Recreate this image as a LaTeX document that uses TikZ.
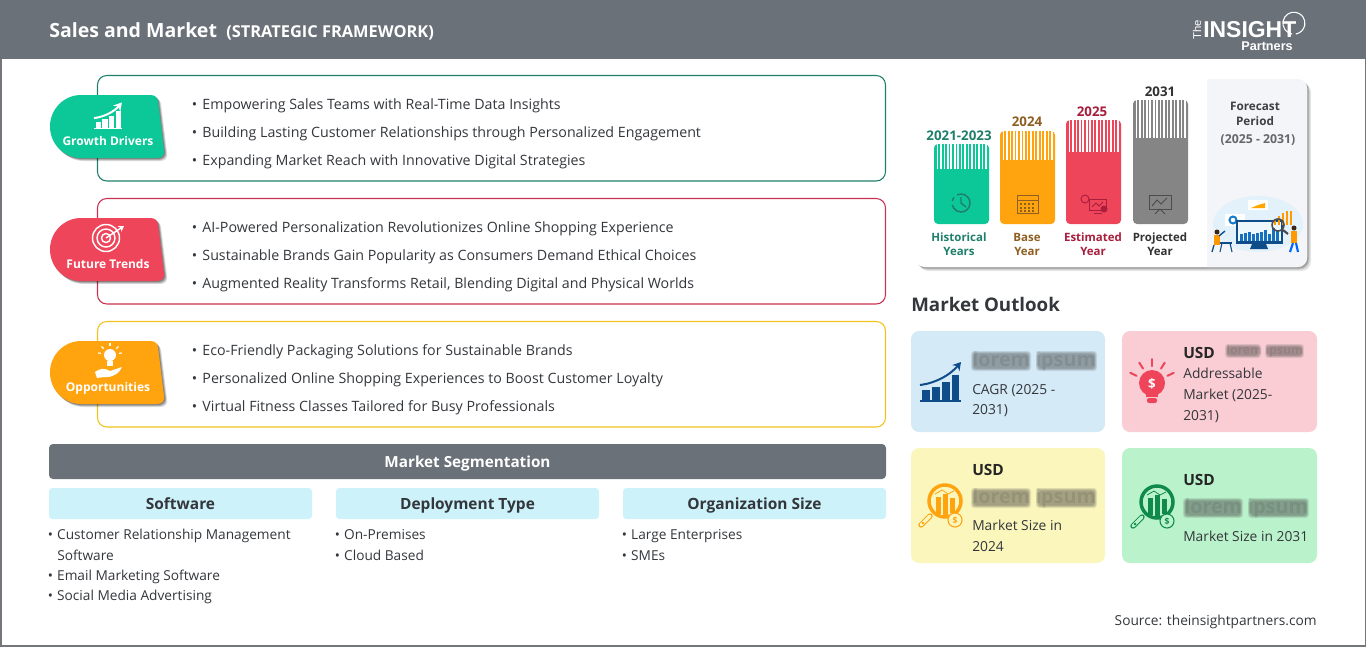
\documentclass[tikz,border=0pt]{standalone}
\usepackage{fontspec}
\setmainfont{Open Sans}
\newfontfamily\logofont{Liberation Sans}
\usetikzlibrary{calc,arrows.meta}
\definecolor{headgray}{HTML}{6B7178}
\definecolor{framegray}{HTML}{73777C}
\definecolor{inktext}{HTML}{33363B}
\definecolor{tealline}{HTML}{1F7F6B}
\definecolor{redline}{HTML}{C9324F}
\definecolor{yellowline}{HTML}{F0C31C}
\definecolor{greentag}{HTML}{0CC898}
\definecolor{redtag}{HTML}{EE455A}
\definecolor{orangetag}{HTML}{FFA30F}
\definecolor{graybar}{HTML}{858585}
\definecolor{cyanhead}{HTML}{CDF2FA}
\definecolor{cardblue}{HTML}{D5EAF7}
\definecolor{cardpink}{HTML}{F9CDD3}
\definecolor{cardyellow}{HTML}{FAF6BC}
\definecolor{cardgreen}{HTML}{BAF3CB}
\definecolor{iconblue}{HTML}{0F4C8A}
\definecolor{icongreen}{HTML}{0F8A4C}
\definecolor{panelgray}{HTML}{F4F5F9}
\definecolor{baseink}{HTML}{8F5F22}
\definecolor{estink}{HTML}{A81E3C}
\definecolor{paleblob}{HTML}{E3F1FA}
\tikzset{
	itemtext/.style={anchor=base west,yshift=-3.75pt,inner sep=0pt,text=inktext,font=\fontsize{10.67}{13}\selectfont},
	listtext/.style={anchor=base west,yshift=-3.75pt,inner sep=0pt,text=inktext,font=\fontsize{10.26}{13}\selectfont},
	tagtext/.style={anchor=base,yshift=-3.4pt,inner sep=0pt,text=white,font=\fontsize{9}{12}\selectfont\bfseries},
	seghead/.style={anchor=base,yshift=-4.4pt,inner sep=0pt,text=inktext,font=\fontsize{11.6}{14}\selectfont\bfseries},
	yearlabel/.style={inner sep=0pt,font=\fontsize{10}{12}\selectfont\bfseries},
	yearname/.style={inner sep=0pt,align=center,font=\fontsize{8.6}{10.5}\selectfont\bfseries},
	cardtext/.style={anchor=west,inner sep=0pt,align=left,text=inktext,font=\fontsize{10.35}{15.5}\selectfont},
	usdtext/.style={anchor=west,inner sep=0pt,text=black!85,font=\fontsize{11.6}{14}\selectfont\bfseries},
	blurred/.style={anchor=west,inner sep=0pt,text=black!80,opacity=0.13,font=\fontsize{#1}{#1}\selectfont\bfseries}
}
\def\tagshape[#1](#2){
	\begin{scope}[shift={(#2)}]
		\foreach \s/\o in {3/0.15,2/0.2,1/0.25}
			\fill[black,opacity=\o,shift={(\s,\s)}] (31,0) -- (100,0) .. controls (105,0) and (107,2) .. (108,6) -- (114,55) .. controls (115,60) and (112,63) .. (107,63) -- (31,63) .. controls (14,63) and (0,49) .. (0,31.5) .. controls (0,14) and (14,0) .. (31,0) -- cycle;
		\fill[#1] (31,0) -- (100,0) .. controls (105,0) and (107,2) .. (108,6) -- (114,55) .. controls (115,60) and (112,63) .. (107,63) -- (31,63) .. controls (14,63) and (0,49) .. (0,31.5) .. controls (0,14) and (14,0) .. (31,0) -- cycle;
	\end{scope}
}
\def\yearbar[#1](#2,#3)(#4){
	\fill[#1,rounded corners=3pt] (#2,#3) rectangle (#2+55,224);
	\foreach \i in {1,...,15}
		\draw[white,line width=1.2pt] (#2+\i*3.45,#3-1) -- (#2+\i*3.45,#4);
}
\def\charticon[#1](#2)(#3){
	\begin{scope}[shift={(#2)},scale=#3]
		\fill[#1] (0,-1.5) rectangle (41,0.5);
		\fill[#1] (2.3,-1) rectangle (10,-11);
		\fill[#1] (12.3,-1) rectangle (20,-14);
		\fill[#1] (22.3,-1) rectangle (30,-19);
		\fill[#1] (31.7,-1) rectangle (39.3,-26);
		\draw[#1,line width=1.5pt,-{Stealth[length=6pt,width=7pt]}] (0,-16) .. controls (16,-18) and (30,-26) .. (41,-39);
	\end{scope}
}
\def\lensicon[#1](#2)(#3){
	\begin{scope}[shift={(#2)}]
		\draw[#1,line width=4pt,line cap=round] (-15,15) -- (-24,24);
		\draw[#3,line width=2.6pt,line cap=round] (-15,15) -- (-24,24);
		\fill[#1] (-22,22) circle (1.3);
		\draw[#1,line width=2.6pt] (0,0) circle (16);
		\fill[#1] (-9,-4) rectangle (-4,13);
		\fill[#1] (-2,-7) rectangle (3,14);
		\fill[#1] (5,-3) rectangle (10,12);
		\draw[#1,line width=0.6pt] (-10,-7) -- (-3,-11) -- (3,-7) -- (9,-10);
		\fill[#3,draw=#1,line width=0.8pt] (10,19) circle (7);
	\end{scope}
}
% soft smudge behind a word pair, x,y is the left middle, #4 and #5 the word ends
\def\smudge(#1,#2)(#3)(#4)(#5)(#6){
	\foreach \g in {0,0.15,0.3,0.45,0.6,0.75,0.9}{
		\fill[black!70,opacity=0.09,rounded corners=2.2pt] (#1-1+\g*3,#2-#3+\g*3) rectangle (#1+#4+1-\g*3,#2+#3-\g*3);
		\fill[black!70,opacity=0.09,rounded corners=2.2pt] (#1+#5-1+\g*3,#2-#3+\g*3) rectangle (#1+#6+1-\g*3,#2+#3-\g*3);
	}
}
\begin{document}
\begin{tikzpicture}[x=0.75pt,y=-0.75pt]
	\useasboundingbox (0,0) rectangle (1366,647);
	%%%%% HEADER %%%%%
	\draw[framegray,line width=1.5pt] (0.5,50) -- (0.5,646) -- (1365.5,646) -- (1365.5,50);
	\fill[headgray] (0,0) rectangle (1366,59);
	\node[anchor=west,inner sep=0pt,text=white,font=\fontsize{14.65}{18}\selectfont\bfseries] (maintitle) at (49,30.5) {Sales and Market};
	\node[anchor=west,inner sep=0pt,text=white,font=\fontsize{12.3}{14}\selectfont\bfseries] (subtitle) at (226,32.5) {(STRATEGIC FRAMEWORK)};
	\node[rotate=90,inner sep=0pt,text=white,font=\logofont\fontsize{8.5}{10}\selectfont] (logothe) at (1197,30) {The};
	\node[anchor=west,inner sep=0pt,text=white,font=\logofont\fontsize{17.2}{20}\selectfont\bfseries] (logoinsight) at (1203,30) {INSIGHT};
	\node[anchor=east,inner sep=0pt,text=white,font=\logofont\fontsize{9.5}{11}\selectfont\bfseries] (logopartners) at (1293,46) {Partners};
	\draw[white,line width=0.8pt] (1292,34) arc (100:440:11);

	%%%%% STRATEGY BOXES %%%%%
	\draw[tealline,line width=0.8pt,rounded corners=7pt] (97.5,75.5) rectangle (885.5,181);
	\draw[redline,line width=0.8pt,rounded corners=7pt] (97.5,198.5) rectangle (885.5,304);
	\draw[yellowline,line width=0.8pt,rounded corners=7pt] (97.5,321.5) rectangle (885.5,427);

	\tagshape[greentag](50,95);
	\tagshape[redtag](50,218);
	\tagshape[orangetag](50,341);

	\charticon[white](94,129)(0.68);
	\draw[white,line width=1.1pt] (106,238) circle (13.5);
	\draw[white,line width=1.1pt] (106,238) circle (9);
	\draw[white,line width=1.1pt] (106,238) circle (4.5);
	\draw[white,line width=1.1pt,-{Stealth[length=4pt,width=5pt]}] (106,238) -- (124,226);
	\fill[white] (110,355) circle (6);
	\fill[white] (107,361) rectangle (113,366);
	\foreach \a in {-170,-135,-90,-45,-10}
		\draw[white,line width=0.9pt] ($(110,355)+(\a:9)$) -- ($(110,355)+(\a:12)$);
	\fill[white] (95,372) .. controls (100,368) and (105,368) .. (110,371) -- (122,367) .. controls (120,373) and (112,378) .. (104,377) -- (97,378) -- cycle;

	\node[tagtext] (growthtag) at (108,141) {Growth Drivers};
	\node[tagtext] (trendtag) at (108,264) {Future Trends};
	\node[tagtext] (opptag) at (108,387) {Opportunities};

	\def\bul{\textbullet\hspace{4pt}}
	\node[itemtext] (growtha) at (191.5,104) {\bul Empowering Sales Teams with Real-Time Data Insights};
	\node[itemtext] (growthb) at (191.5,132) {\bul Building Lasting Customer Relationships through Personalized Engagement};
	\node[itemtext] (growthc) at (191.5,160) {\bul Expanding Market Reach with Innovative Digital Strategies};
	\node[itemtext] (trenda) at (191.5,227) {\bul AI-Powered Personalization Revolutionizes Online Shopping Experience};
	\node[itemtext] (trendb) at (191.5,255) {\bul Sustainable Brands Gain Popularity as Consumers Demand Ethical Choices};
	\node[itemtext] (trendc) at (191.5,283) {\bul Augmented Reality Transforms Retail, Blending Digital and Physical Worlds};
	\node[itemtext] (oppa) at (191.5,350) {\bul Eco-Friendly Packaging Solutions for Sustainable Brands};
	\node[itemtext] (oppb) at (191.5,378) {\bul Personalized Online Shopping Experiences to Boost Customer Loyalty};
	\node[itemtext] (oppc) at (191.5,406) {\bul Virtual Fitness Classes Tailored for Busy Professionals};

	%%%%% SEGMENTATION %%%%%
	\fill[headgray,rounded corners=3pt] (49,444) rectangle (886,479);
	\node[seghead,text=white,font=\fontsize{11.45}{14}\selectfont\bfseries] (segtitle) at (467.5,462) {Market Segmentation};
	\fill[cyanhead,rounded corners=2.5pt] (49,488) rectangle (312,519);
	\fill[cyanhead,rounded corners=2.5pt] (336,488) rectangle (599,519);
	\fill[cyanhead,rounded corners=2.5pt] (623,488) rectangle (886,519);
	\node[seghead] (softhead) at (180.5,504) {Software};
	\node[seghead] (dephead) at (467.5,504) {Deployment Type};
	\node[seghead] (orghead) at (754.5,504) {Organization Size};

	\def\lbul{\textbullet\hspace{3.2pt}}
	\node[listtext] (softa) at (47.5,534) {\lbul Customer Relationship Management};
	\node[listtext] (softb) at (57,555) {Software};
	\node[listtext] (softc) at (47.5,575) {\lbul Email Marketing Software};
	\node[listtext] (softd) at (47.5,595) {\lbul Social Media Advertising};
	\node[listtext] (depa) at (334.5,534) {\lbul On-Premises};
	\node[listtext] (depb) at (334.5,555) {\lbul Cloud Based};
	\node[listtext] (orga) at (621.5,534) {\lbul Large Enterprises};
	\node[listtext] (orgb) at (621.5,555) {\lbul SMEs};

	%%%%% FORECAST CARD %%%%%
	\foreach \s/\o in {4/0.1,2.5/0.14,1.5/0.18}
		\fill[black,opacity=\o,rounded corners=7pt] (915+\s,79+\s) rectangle (1307+\s,267+\s);
	\fill[white,rounded corners=7pt] (915,79) rectangle (1307,267);
	\fill[panelgray] (1207,79) [rounded corners=7pt] -- (1307,79) -- (1307,267) [sharp corners] -- (1207,267) -- cycle;

	\yearbar[greentag](934,144)(169);
	\yearbar[orangetag](1000,131)(160);
	\yearbar[redtag](1066,120)(152);
	\yearbar[graybar](1133,100)(138);

	\node[yearlabel,text=tealline] (histyear) at (959,136) {2021-2023};
	\node[yearlabel,text=baseink] (baseyear) at (1027,122) {2024};
	\node[yearlabel,text=estink] (estyear) at (1092,112) {2025};
	\node[yearlabel,text=black!80] (projyear) at (1160,91.5) {2031};
	\node[yearname,text=tealline] (histname) at (959,244) {Historical\\Years};
	\node[yearname,text=baseink] (basename) at (1027,244) {Base\\Year};
	\node[yearname,text=estink] (estname) at (1093,244) {Estimated\\Year};
	\node[yearname,text=black!80] (projname) at (1160,244) {Projected\\Year};
	\node[inner sep=0pt,align=center,text=black!75,font=\fontsize{8.8}{11.2}\selectfont\bfseries] (fcname) at (1255,114) {Forecast\\Period};
	\node[inner sep=0pt,text=black!60,font=\fontsize{9.2}{11}\selectfont\bfseries] (fcyears) at (1258,140) {(2025 - 2031)};

	% clock, calendar, gears, board
	\draw[tealline,line width=1.1pt] (961,194) arc (-90:150:9);
	\draw[tealline,line width=1.1pt,dashed] (961,194) arc (-90:-210:9);
	\draw[tealline,line width=1.1pt] (961,197) -- (961,203) -- (966,207);
	\draw[baseink,line width=0.7pt] (1017,195) rectangle (1038,213);
	\draw[baseink,line width=0.7pt] (1017,200) -- (1038,200);
	\foreach \a in {1020,1024,1028,1032}
		\foreach \b in {203,206.5,210}
			\fill[baseink] (\a,\b) rectangle (\a+2.2,\b+2);
	\draw[estink,line width=0.7pt] (1089,199) rectangle (1106,210);
	\draw[estink,line width=0.7pt] (1094,213) -- (1102,213);
	\draw[estink,line width=0.7pt] (1085,199) circle (4);
	\fill[estink] (1104,209) circle (3.5);
	\draw[estink,line width=0.7pt] (1092,207) -- (1096,203) -- (1099,206) -- (1103,202);
	\draw[black!70,line width=0.7pt] (1149,195) rectangle (1171,209);
	\draw[black!70,line width=0.7pt] (1152,206) -- (1157,200) -- (1161,204) -- (1167,198);
	\draw[black!70,line width=0.7pt] (1160,209) -- (1155,214);
	\draw[black!70,line width=0.7pt] (1160,209) -- (1165,214);

	% people and screen
	\fill[paleblob] (1258,224) ellipse (45 and 28);
	\fill[white] (1248,200) rectangle (1268,210);
	\fill[orange!70!yellow] (1251,208) -- (1258,205) -- (1265,203) -- (1265,208) -- cycle;
	\fill[white] (1225,214) rectangle (1245,226);
	\draw[cyan!60!blue,line width=1.5pt] (1233,220) circle (3.5);
	\fill[iconblue] (1236,220) rectangle (1283,244);
	\fill[paleblob!60!white] (1238,222) rectangle (1281,241);
	\foreach \x/\y in {1240/234,1244/233,1248/232,1252/234,1256/233,1260/232,1264/230,1268/234,1272/228,1276/231}
		\fill[cyan!50!blue] (\x,\y) rectangle (\x+2.6,241);
	\fill[iconblue] (1252,244) -- (1266,244) -- (1268,249) -- (1250,249) -- cycle;
	\foreach \x/\y in {1274/219,1278/216,1282/213,1286/211,1290/211}
		\fill[orange!80!yellow] (\x,\y) rectangle (\x+2.2,225);
	\draw[black!70,line width=1.2pt] (1278,225) circle (6);
	\draw[black!70,line width=1.6pt] (1283,230) -- (1288,234);
	\fill[orange!80!yellow] (1291,231) rectangle (1297,243);
	\fill[black!70!brown] (1294,228) circle (2.5);
	\draw[blue!60!cyan,line width=1.6pt] (1293,243) -- (1290,252);
	\draw[blue!60!cyan,line width=1.6pt] (1296,243) -- (1298,252);
	\fill[orange!80!yellow] (1214,235) rectangle (1220,245);
	\fill[black!70!brown] (1217,232) circle (2.5);
	\draw[iconblue,line width=0.8pt] (1220,243) -- (1232,243);
	\draw[iconblue,line width=0.8pt] (1222,243) -- (1220,252);
	\draw[iconblue,line width=0.8pt] (1230,243) -- (1232,252);
	\draw[iconblue,line width=1pt] (1214,245) -- (1212,252);
	\draw[iconblue,line width=1pt] (1219,236) -- (1225,231);

	%%%%% MARKET OUTLOOK %%%%%
	\node[anchor=west,inner sep=0pt,text=inktext,font=\fontsize{14.05}{18}\selectfont\bfseries] (outlook) at (911,304) {Market Outlook};
	\fill[cardblue,rounded corners=6pt] (911,331) rectangle (1105,432);
	\fill[cardpink,rounded corners=6pt] (1122,331) rectangle (1317,432);
	\fill[cardyellow,rounded corners=6pt] (911,448) rectangle (1105,563);
	\fill[cardgreen,rounded corners=6pt] (1122,448) rectangle (1317,563);

	\charticon[iconblue](920,401)(1);
	\lensicon[orangetag](945,501)(cardyellow);
	\lensicon[icongreen](1157,502)(cardgreen);
	\node[inner sep=0pt,text=orangetag,font=\fontsize{6.5}{8}\selectfont\bfseries] (coina) at (955,520) {\$};
	\node[inner sep=0pt,text=icongreen,font=\fontsize{6.5}{8}\selectfont\bfseries] (coinb) at (1167,521) {\$};

	\fill[redtag] (1152,383) circle (13);
	\fill[redtag] (1146,392) rectangle (1158,397);
	\fill[redtag,rounded corners=1.5pt] (1147,398) rectangle (1157,403);
	\foreach \a in {-155,-122,-90,-58,-25}
		\draw[redtag,line width=1.5pt,line cap=round] ($(1152,383)+(\a:17)$) -- ($(1152,383)+(\a:24)$);
	\node[inner sep=0pt,text=white,font=\fontsize{10}{12}\selectfont\bfseries] (bulbsign) at (1152,383.5) {\$};

	\smudge(972,361)(10)(58)(65)(124);
	\smudge(1226,351)(7)(34)(40)(77);
	\smudge(972,498)(10)(58)(65)(124);
	\smudge(1184,508)(10)(58)(65)(124);
	\node[blurred=14.8] (blura) at (972,361) {lorem ipsum};
	\node[blurred=9.2] (blurb) at (1226,351) {lorem ipsum};
	\node[blurred=14.8] (blurc) at (972,498) {lorem ipsum};
	\node[blurred=14.8] (blurd) at (1184,508) {lorem ipsum};

	\node[cardtext] (cagrtext) at (972,400.5) {CAGR (2025 -\\2031)};
	\node[usdtext] (usdb) at (1183,353) {USD};
	\node[cardtext] (addrtext) at (1183,395.5) {Addressable\\Market (2025-\\2031)};
	\node[usdtext] (usdc) at (972,470) {USD};
	\node[cardtext] (sizea) at (972,535.5) {Market Size in\\2024};
	\node[usdtext] (usdd) at (1183,480) {USD};
	\node[cardtext] (sizeb) at (1183,536) {Market Size in 2031};

	\node[anchor=east,yshift=-1.5pt,inner sep=0pt,text=inktext,font=\fontsize{10.3}{13}\selectfont] (sourcetext) at (1317,620) {Source: theinsightpartners.com};
\end{tikzpicture}
\end{document}
